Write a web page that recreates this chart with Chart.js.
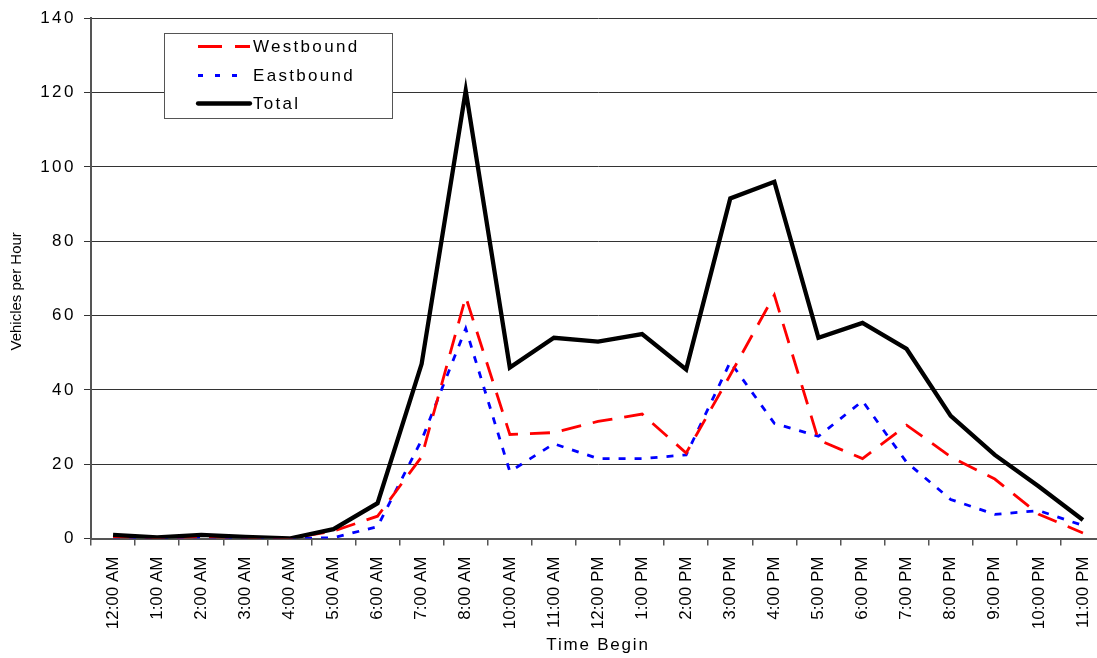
<!DOCTYPE html>
<html>
<head>
<meta charset="utf-8">
<title>Vehicles per Hour</title>
<script src="https://cdn.jsdelivr.net/npm/chart.js"></script>
<style>
  html, body { margin: 0; padding: 0; background: #fff; overflow: hidden; }
  #wrap { width: 1097px; height: 658px; overflow: hidden; }
</style>
</head>
<body>
<div id="wrap"><canvas id="chart" width="1106" height="658"></canvas></div>
<script>
const hours = ['12:00 AM', '1:00 AM', '2:00 AM', '3:00 AM', '4:00 AM', '5:00 AM', '6:00 AM',
  '7:00 AM', '8:00 AM', '10:00 AM', '11:00 AM', '12:00 PM', '1:00 PM', '2:00 PM', '3:00 PM',
  '4:00 PM', '5:00 PM', '6:00 PM', '7:00 PM', '8:00 PM', '9:00 PM', '10:00 PM', '11:00 PM'];

const westbound = [0.5, 0.2, 0.5, 0.3, 0, 2, 6, 22, 65, 28, 28.5, 31.5, 33.5, 23, 44, 65.5, 26.5, 21.5, 30.5, 22, 16, 6.5, 1.5];
const eastbound = [0.4, 0.1, 0.4, 0.1, 0, 0.2, 3.2, 26.5, 56.5, 18, 25.5, 21.5, 21.5, 22.5, 47.5, 31, 27.5, 37, 20.5, 10.5, 6.5, 7.5, 3.5];
const total = [1, 0.3, 1, 0.4, 0, 2.5, 9.5, 47, 120.5, 46, 54, 53, 55, 45.5, 91.5, 96, 54, 58, 51, 33, 22.5, 14, 5];

const FONT = "'Liberation Sans', Arial, sans-serif";
Chart.defaults.font.family = FONT;
Chart.defaults.color = '#000';

// excel spreads the horizontal text out a bit, canvas can do that with letterSpacing
function spaced(fn, px, dy) {
  return function (area) {
    const c = this.ctx;
    c.save();
    c.letterSpacing = px;
    if (dy) c.translate(0, dy);
    fn.call(this, area);
    c.restore();
  };
}

const patchText = {
  id: 'patchText',
  beforeDraw(chart) {
    const x = chart.scales.x, y = chart.scales.y;
    if (!y._patched) {
      y.drawLabels = spaced(y.drawLabels, '2.5px');
      y.drawTitle = spaced(y.drawTitle, '0px', 13);
      y._patched = true;
    }
    if (!x._patched) {
      x.drawTitle = spaced(x.drawTitle, '1.8px');
      x._patched = true;
    }
  }
};

const boxLegend = {
  id: 'boxLegend',
  afterDraw(chart) {
    const c = chart.ctx;
    c.save();
    c.fillStyle = '#fff';
    c.strokeStyle = '#555';
    c.lineWidth = 1;
    c.fillRect(164.5, 33.5, 228, 85);
    c.strokeRect(164.5, 33.5, 228, 85);
    c.font = '17px ' + FONT;
    c.letterSpacing = '2.3px';
    c.textBaseline = 'middle';
    const rows = [46.5, 75.5, 103.5];
    chart.data.datasets.forEach((ds, i) => {
      const y = rows[i];
      c.beginPath();
      c.setLineDash(ds.legendDash);
      c.lineCap = ds.legendCap;
      c.strokeStyle = ds.borderColor;
      c.lineWidth = ds.borderWidth;
      c.moveTo(198, y);
      c.lineTo(250, y);
      c.stroke();
      c.setLineDash([]);
      c.fillStyle = '#000';
      c.fillText(ds.label, 253, y + 1);
    });
    c.restore();
  }
};

new Chart(document.getElementById('chart'), {
  type: 'line',
  data: {
    labels: hours,
    datasets: [
      {
        label: 'Westbound',
        data: westbound,
        borderColor: '#ff0000',
        borderWidth: 2.8,
        borderDash: [20, 12],
        legendDash: [24, 13],
        legendCap: 'butt',
        order: 1
      },
      {
        label: 'Eastbound',
        data: eastbound,
        borderColor: '#0000ff',
        borderWidth: 2.8,
        borderDash: [7, 9],
        legendDash: [5, 12, 5, 12, 5, 100],
        legendCap: 'butt',
        order: 2
      },
      {
        label: 'Total',
        data: total,
        borderColor: '#000000',
        borderWidth: 4.3,
        legendDash: [],
        legendCap: 'round',
        order: 0
      }
    ]
  },
  options: {
    responsive: false,
    animation: false,
    devicePixelRatio: 1,
    layout: { padding: { top: 17, left: 0, right: 1, bottom: 0 } },
    elements: {
      point: { radius: 0, hoverRadius: 0 },
      line: { tension: 0, borderJoinStyle: 'miter' }
    },
    plugins: {
      legend: { display: false },
      tooltip: { enabled: false }
    },
    scales: {
      x: {
        offset: true,
        grid: {
          offset: true,
          drawOnChartArea: false,
          drawTicks: true,
          tickLength: 7,
          color: '#555',
          lineWidth: 1.5
        },
        border: { color: '#555', width: 2 },
        ticks: {
          font: { size: 17 },
          color: '#000',
          minRotation: 90,
          maxRotation: 90,
          autoSkip: false,
          padding: 11
        },
        title: {
          display: true,
          text: 'Time Begin',
          font: { size: 17 },
          color: '#000',
          padding: { top: 0, bottom: 2 }
        },
        afterFit(scale) {
          scale.height = 119.5;
          scale.paddingLeft = 0;
          scale.paddingRight = 0;
        }
      },
      y: {
        min: 0,
        max: 140,
        ticks: {
          stepSize: 20,
          font: { size: 17 },
          color: '#000',
          padding: 8
        },
        grid: {
          color: '#333',
          lineWidth: 1,
          tickLength: 7
        },
        border: { color: '#555', width: 2 },
        title: {
          display: true,
          text: 'Vehicles per Hour',
          font: { size: 15 },
          color: '#000',
          padding: { top: 8, bottom: 0 }
        },
        afterFit(scale) { scale.width = 91; }
      }
    }
  },
  plugins: [patchText, boxLegend]
});
</script>
</body>
</html>
